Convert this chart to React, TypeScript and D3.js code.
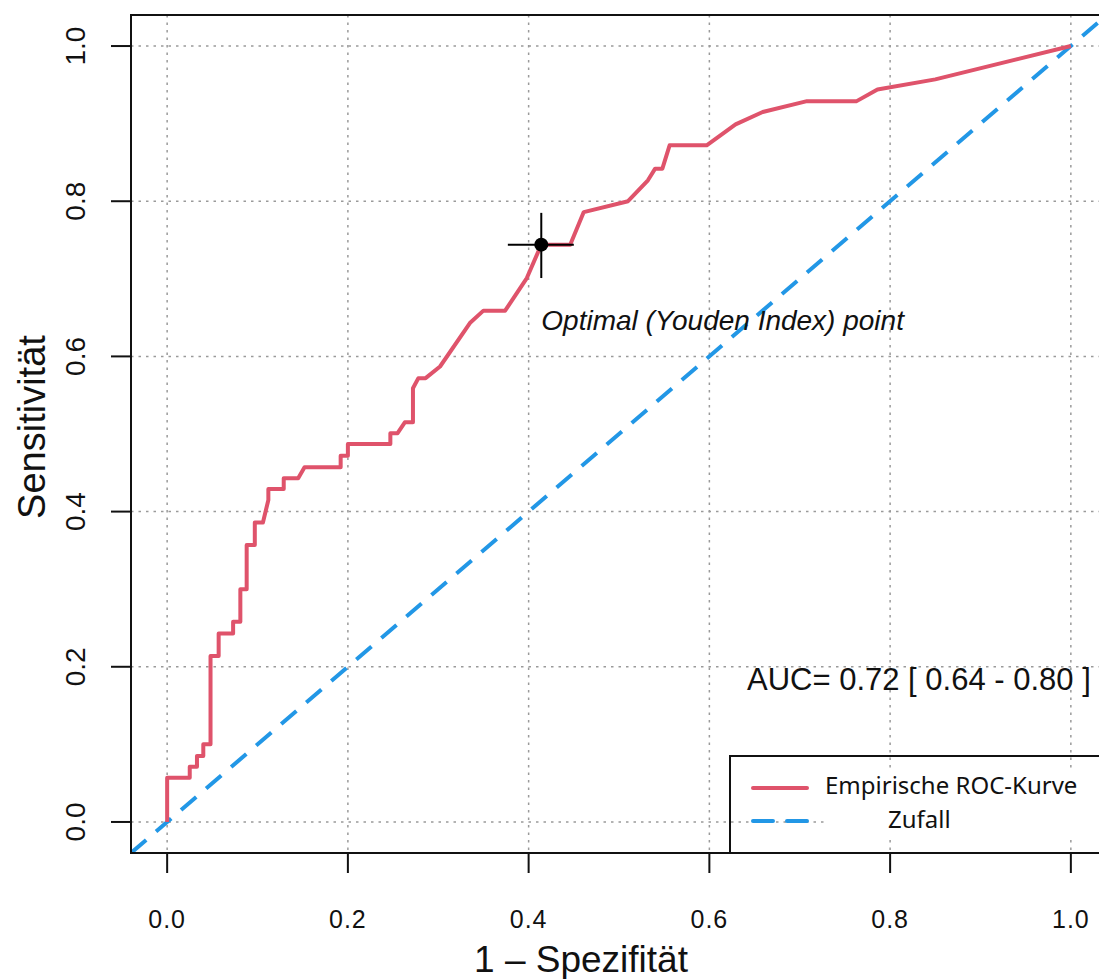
import React from "react";
import * as d3 from "d3";

// ROC curve points (1 - specificity, sensitivity)
const fpr = [
  0, 0, 0.025, 0.025, 0.033, 0.033, 0.04, 0.04, 0.048, 0.048, 0.057, 0.057,
  0.073, 0.073, 0.081, 0.081, 0.088, 0.088, 0.097, 0.097, 0.106, 0.112, 0.112,
  0.129, 0.129, 0.145, 0.152, 0.192, 0.192, 0.2, 0.2, 0.247, 0.247, 0.255,
  0.263, 0.272, 0.272, 0.278, 0.286, 0.302, 0.335, 0.35, 0.374, 0.398, 0.414,
  0.446, 0.461, 0.51, 0.532, 0.54, 0.548, 0.556, 0.597, 0.629, 0.659, 0.708,
  0.763, 0.786, 0.85, 1.0,
];
const tpr = [
  0, 0.057, 0.057, 0.071, 0.071, 0.085, 0.085, 0.1, 0.1, 0.214, 0.214, 0.243,
  0.243, 0.258, 0.258, 0.3, 0.3, 0.357, 0.357, 0.386, 0.386, 0.415, 0.429,
  0.429, 0.443, 0.443, 0.457, 0.457, 0.472, 0.472, 0.487, 0.487, 0.501, 0.501,
  0.515, 0.515, 0.559, 0.572, 0.572, 0.587, 0.643, 0.659, 0.659, 0.701, 0.744,
  0.744, 0.786, 0.8, 0.827, 0.842, 0.842, 0.872, 0.872, 0.899, 0.915, 0.929,
  0.929, 0.944, 0.957, 1.0,
];

// Youden point and its confidence cross
const youden = [0.414, 0.744];
const youdenCiX = [0.377, 0.45];
const youdenCiY = [0.701, 0.785];

const ticks = [0, 0.2, 0.4, 0.6, 0.8, 1.0];
const tickLabels = ["0.0", "0.2", "0.4", "0.6", "0.8", "1.0"];
const legendLabels = ["Empirische ROC-Kurve", "Zufall"];
const aucText = "AUC= 0.72 [ 0.64 - 0.80 ]";

const RED = "#DF536B";
const BLUE = "#2297E6";
const GRID = "#9a9a9a";
const FONT = "'Liberation Sans', Arial, sans-serif";

const App = () => {
  const width = 1099;
  const height = 979;
  const plot = { left: 131, right: 1107, top: 15, bottom: 853 };

  const xScale = d3.scaleLinear().domain([-0.04, 1.04]).range([plot.left, plot.right]);
  const yScale = d3.scaleLinear().domain([-0.04, 1.04]).range([plot.bottom, plot.top]);

  const rocLine = d3
    .line<number>()
    .x((d) => xScale(d))
    .y((_, i) => yScale(tpr[i]));

  const diag = [-0.04, 1.04];

  const gridLines = (
    <g stroke={GRID} strokeWidth={1.5} strokeDasharray="2.5 5" fill="none">
      {ticks.map((t) => (
        <line key={"v" + t} x1={xScale(t)} x2={xScale(t)} y1={plot.top} y2={plot.bottom} />
      ))}
      {ticks.map((t) => (
        <line key={"h" + t} x1={plot.left} x2={plot.right} y1={yScale(t)} y2={yScale(t)} />
      ))}
    </g>
  );

  const legend = { x: 730, y: 756 };

  return (
    <svg
      width={width}
      height={height}
      style={{ position: "absolute", left: 0, top: 0, background: "#fff" }}
      fontFamily={FONT}
    >
      <defs>
        <clipPath id="plotClip">
          <rect x={plot.left} y={plot.top} width={plot.right - plot.left} height={plot.bottom - plot.top} />
        </clipPath>
      </defs>

      {/* legend box sits under the grid, as in the picture */}
      <rect
        x={legend.x}
        y={legend.y}
        width={plot.right - legend.x}
        height={plot.bottom - legend.y}
        fill="#fff"
        stroke="#111"
        strokeWidth={2}
      />

      {gridLines}

      {/* pasted legend text patch */}
      <rect x={826} y={768} width={280} height={67} fill="#fff" />

      <g clipPath="url(#plotClip)">
        <line
          x1={xScale(diag[0])}
          y1={yScale(diag[0])}
          x2={xScale(diag[1])}
          y2={yScale(diag[1])}
          stroke={BLUE}
          strokeWidth={4}
          strokeDasharray="20 13"
        />
        <path d={rocLine(fpr) || ""} fill="none" stroke={RED} strokeWidth={4} strokeLinejoin="round" />
      </g>

      {/* Youden point */}
      <g stroke="#000" strokeWidth={2}>
        <line x1={xScale(youdenCiX[0])} x2={xScale(youdenCiX[1])} y1={yScale(youden[1])} y2={yScale(youden[1])} />
        <line x1={xScale(youden[0])} x2={xScale(youden[0])} y1={yScale(youdenCiY[0])} y2={yScale(youdenCiY[1])} />
      </g>
      <circle cx={xScale(youden[0])} cy={yScale(youden[1])} r={7} fill="#000" />
      <text x={xScale(youden[0])} y={330} fontSize={28} fontStyle="italic" fill="#111">
        Optimal (Youden Index) point
      </text>

      <text x={747} y={690} fontSize={31} fill="#111">
        {aucText}
      </text>

      {/* legend entries */}
      <line x1={753} x2={807} y1={788} y2={788} stroke={RED} strokeWidth={4} strokeLinecap="round" />
      <line
        x1={753}
        x2={807}
        y1={821}
        y2={821}
        stroke={BLUE}
        strokeWidth={4}
        strokeDasharray="20 14"
        strokeLinecap="round"
      />
      <text x={825} y={794} fontSize={24} fontFamily="'Noto Sans', sans-serif" fill="#111">
        {legendLabels[0]}
      </text>
      <text x={888} y={828} fontSize={24} fontFamily="'Noto Sans', sans-serif" fill="#111">
        {legendLabels[1]}
      </text>

      {/* frame */}
      <rect
        x={plot.left}
        y={plot.top}
        width={plot.right - plot.left}
        height={plot.bottom - plot.top}
        fill="none"
        stroke="#111"
        strokeWidth={2}
      />

      {/* x axis */}
      <g>
        {ticks.map((t, i) => (
          <g key={t} transform={`translate(${xScale(t)}, 0)`}>
            <line y1={plot.bottom} y2={plot.bottom + 20} stroke="#111" strokeWidth={2} />
            <text y={928} textAnchor="middle" fontSize={25} letterSpacing={1} fill="#111">
              {tickLabels[i]}
            </text>
          </g>
        ))}
        <text x={581} y={972} textAnchor="middle" fontSize={37} fill="#111">
          1 – Spezifität
        </text>
      </g>

      {/* y axis */}
      <g>
        {ticks.map((t, i) => (
          <g key={t} transform={`translate(0, ${yScale(t)})`}>
            <line x1={plot.left - 20} x2={plot.left} stroke="#111" strokeWidth={2} />
            <text transform="translate(85, 0) rotate(-90)" textAnchor="middle" fontSize={28} fill="#111">
              {tickLabels[i]}
            </text>
          </g>
        ))}
        <text transform="translate(45, 427) rotate(-90)" textAnchor="middle" fontSize={38} fill="#111">
          Sensitivität
        </text>
      </g>
    </svg>
  );
};

export default App;
